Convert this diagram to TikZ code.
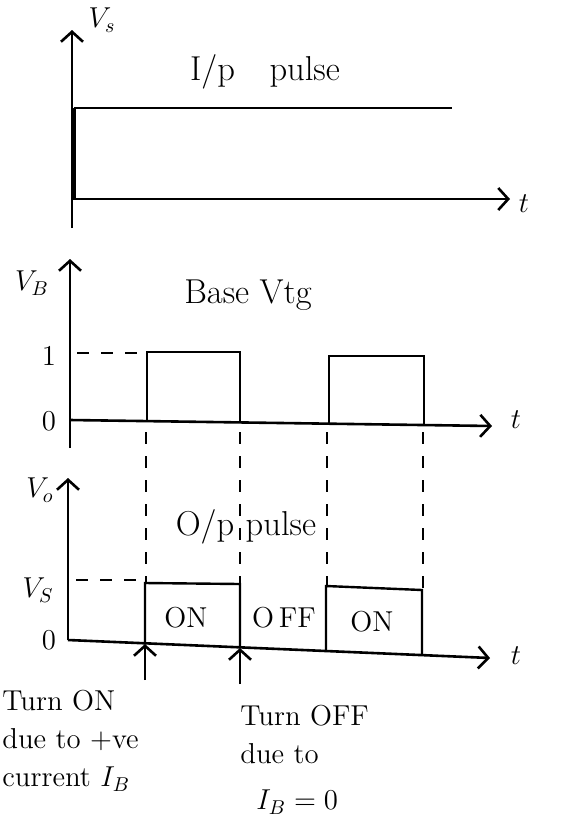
\documentclass[tikz,border=0pt]{standalone}
\usepackage{amsmath,amssymb}
\usepackage{xcolor}
\usetikzlibrary{arrows.meta}

\tikzset{
  axis/.style={line width=1.3pt,-{Straight Barb[length=5pt,width=11pt]}},
  wave/.style={line width=1.2pt},
  guide/.style={line width=0.6pt,dash pattern=on 6pt off 6pt},
  lbl/.style={font=\Large,inner sep=1pt},
  title/.style={font=\LARGE,inner sep=1pt},
}

\begin{document}
\begin{tikzpicture}[x=0.5pt,y=-0.5pt]
\useasboundingbox (0,0) rectangle (571,827);

% input pulse
\coordinate (inlow) at (72,228);
\coordinate (intop) at (72,30);
\coordinate (inorg) at (72,199);
\coordinate (inend) at (510,199);
\draw[axis] (inlow) -- (intop);
\draw[axis] (inorg) -- (inend);
\draw[line width=2.2pt] (74,199) -- (74,108);
\draw[wave] (74,108) -- (452,108);
\node[lbl] (vs1) at (102,20) {$V_s$};
\node[title] (inttl) at (265,72) {I/p\quad pulse};
\node[lbl] (t1) at (524,204) {$t$};

% base voltage
\coordinate (blow) at (70,448);
\coordinate (btop) at (70,259);
\coordinate (borg) at (70,420);
\coordinate (bend) at (492,426);
\draw[axis] (blow) -- (btop);
\draw[axis] (borg) -- (bend);
\node[lbl] (vb) at (32,283) {$V_B$};
\node[title] (bttl) at (248,295) {Base Vtg};
\node[lbl] (one) at (49,356) {1};
\node[lbl] (zerob) at (49,421) {0};
\node[lbl] (t2) at (516,420) {$t$};
\draw[guide] (77,353) -- (143,353);
\draw[wave] (147,421) -- (147,352) -- (240,352) -- (240,423);
\draw[wave] (329,424) -- (329,356) -- (424,356) -- (424,426);

% guide lines down to the output
\foreach \gx/\gy in {146/582, 240/586, 327/585, 423/592}
  \draw[guide] (\gx,432) -- (\gx,\gy);

% output pulse
\coordinate (olow) at (68,640);
\coordinate (otop) at (68,478);
\coordinate (oorg) at (68,640);
\coordinate (oend) at (490,658);
\draw[axis] (olow) -- (otop);
\draw[axis] (oorg) -- (oend);
\node[lbl] (vo) at (40,490) {$V_o$};
\node[title] (ottl) at (240,527) {\makebox[0pt][r]{O/p\,}\makebox[0pt][l]{\,pulse}};
\node[lbl] (vs2) at (38,590) {$V_S$};
\node[lbl] (zeroo) at (49,640) {0};
\node[lbl] (t3) at (516,656) {$t$};
\draw[guide] (76,580) -- (140,580);
\draw[wave] (145,643) -- (145,583) -- (240,584) -- (240,647);
\draw[wave] (326,651) -- (326,586) -- (422,590) -- (422,655);
\node[lbl] (on1) at (186,618) {ON};
\node[lbl] (off) at (284,618) {O\,FF};
\node[lbl] (on2) at (372,622) {ON};

% switching instants
\coordinate (onfoot) at (145,680);
\coordinate (onhead) at (145,644);
\coordinate (offfoot) at (240,684);
\coordinate (offhead) at (240,648);
\draw[axis] (onfoot) -- (onhead);
\draw[axis] (offfoot) -- (offhead);
\node[lbl,anchor=north west,align=left] (ontxt) at (0,688)
  {Turn ON\\[1pt] due to +ve\\[1pt] current $I_B$};
\node[lbl,anchor=north west,align=left] (offtxt) at (238,703)
  {Turn OFF\\[1pt] due to\\[5pt] \hspace*{8pt}$I_B = 0$};
\end{tikzpicture}
\end{document}
